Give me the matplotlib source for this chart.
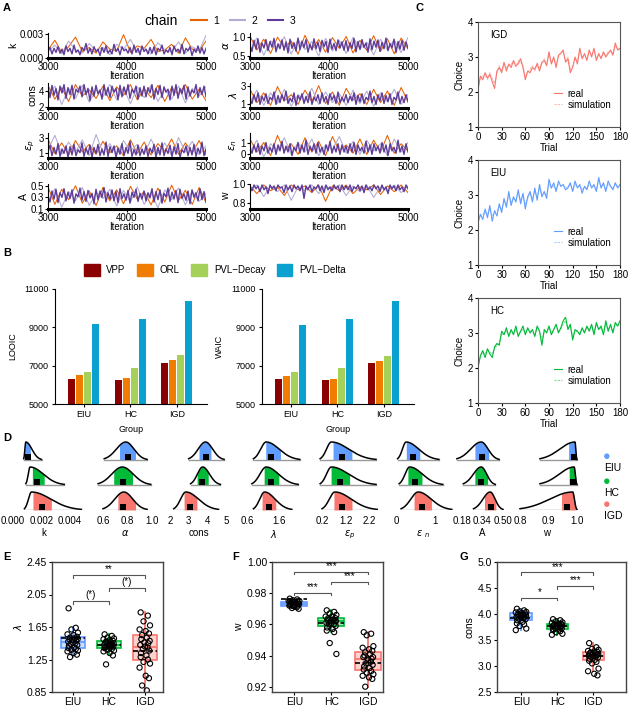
import numpy as np
import matplotlib.pyplot as plt
from matplotlib.patches import Patch
from matplotlib.lines import Line2D

plt.rcParams['font.family'] = ['Liberation Sans', 'DejaVu Sans']
plt.rcParams['axes.linewidth'] = 0.8

W, H = 628, 708
fig = plt.figure(figsize=(W / 100, H / 100), dpi=100)


def px_axes(x0, y0, x1, y1):
    return fig.add_axes([x0 / W, 1 - y1 / H, (x1 - x0) / W, (y1 - y0) / H])


groups = ['EIU', 'HC', 'IGD']
grp_colors = ['#619CFF', '#00BA38', '#F8766D']

# ---------------- A: MCMC traces (chains 1, 2, 3) ----------------
chain_colors = ['#e66101', '#b2abd2', '#5e3c99']

k_chains = [
    [1.0, 2.2, 0.7, 1.4, 2.6, 0.8, 1.3, 0.6, 2.0, 1.1, 0.9, 2.9, 0.7, 1.5, 1.2, 2.3, 0.8, 1.0, 1.7, 0.6, 2.5, 1.1, 0.9, 2.1],
    [0.8, 1.6, 0.5, 2.1, 1.0, 0.6, 1.8, 0.9, 1.3, 0.4, 1.7, 1.1, 2.3, 0.7, 1.2, 0.5, 1.9, 1.0, 0.8, 2.0, 0.6, 1.4, 0.9, 2.8],
    [0.9, 1.3, 0.5, 1.2, 0.7, 1.4, 0.6, 1.1, 0.4, 1.5, 0.8, 1.2, 0.5, 1.6, 0.7, 1.0, 0.4, 1.3, 0.9, 1.8, 0.6, 1.2, 0.5, 1.4,
     0.8, 1.1, 0.3, 1.3, 0.7, 1.5, 0.6, 1.0, 0.5, 1.7, 0.8, 1.2, 0.4, 1.4, 0.9, 1.1, 0.6, 1.3, 0.5, 1.6, 0.7, 1.2, 0.4, 1.5,
     0.8, 1.1, 0.5, 1.3, 0.6, 1.4, 0.4, 1.2, 0.9, 1.6, 0.5, 1.0, 0.7, 1.3, 0.4, 1.5, 0.8, 1.1, 0.6, 1.7, 0.5, 1.2, 0.9, 1.4,
     0.3, 1.1, 0.7, 1.5, 0.6, 1.3, 0.5, 1.2],
]  # x 1e-3
cons_chains = [
    [4.8, 3.0, 4.5, 2.7, 4.9, 3.4, 4.2, 3.1, 4.7, 2.8, 4.6, 3.5, 4.9, 2.9, 4.4, 3.2, 4.8, 2.7, 4.5, 3.6, 4.9, 3.0, 4.3, 2.8],
    [3.5, 4.7, 2.3, 4.4, 3.1, 4.8, 2.6, 4.2, 3.3, 4.9, 2.9, 4.5, 2.4, 4.6, 3.2, 4.8, 2.7, 4.3, 3.0, 4.7, 2.5, 4.4, 3.4, 4.6],
    [4.6, 3.2, 4.8, 3.5, 4.4, 2.9, 4.7, 3.8, 4.9, 3.1, 4.5, 3.6, 4.8, 3.0, 4.3, 3.9, 4.7, 3.3, 4.9, 3.6, 4.4, 2.8, 4.6, 3.4,
     4.8, 3.7, 4.2, 3.0, 4.9, 3.5, 4.5, 3.2, 4.7, 3.9, 4.4, 2.9, 4.8, 3.3, 4.6, 3.6, 4.9, 3.1, 4.3, 3.8, 4.7, 3.0, 4.5, 3.4,
     4.7, 3.3, 4.5, 3.8, 4.9, 3.0, 4.4, 3.6, 4.8, 3.2, 4.6, 3.9, 4.3, 2.9, 4.7, 3.5, 4.9, 3.1, 4.4, 3.7, 4.8, 3.0, 4.6, 3.4,
     4.2, 3.8, 4.9, 3.2, 4.5, 3.6, 4.7, 3.3],
]
ep_chains = [
    [2.9, 1.0, 2.4, 0.8, 2.7, 1.2, 2.2, 0.9, 2.6, 1.1, 2.0, 0.7, 2.8, 1.0, 2.5, 0.8, 2.3, 1.3, 2.9, 0.9, 2.4, 1.1, 2.7, 0.8],
    [1.5, 3.4, 0.9, 2.5, 1.2, 2.8, 0.7, 3.5, 1.1, 2.3, 0.8, 2.7, 1.3, 2.2, 0.9, 2.9, 1.0, 2.4, 0.7, 3.1, 1.2, 2.6, 0.8, 2.0],
    [1.2, 2.1, 0.7, 1.8, 0.9, 2.3, 0.6, 1.6, 1.0, 2.0, 0.5, 1.9, 0.8, 2.2, 0.7, 1.5, 1.1, 2.4, 0.6, 1.7, 0.9, 2.1, 0.5, 1.8,
     1.0, 2.2, 0.7, 1.6, 0.8, 2.5, 0.6, 1.9, 1.1, 2.0, 0.5, 1.7, 0.9, 2.3, 0.7, 1.8, 1.0, 2.6, 0.6, 1.5, 0.8, 2.1, 0.7, 1.6,
     0.9, 2.0, 0.6, 1.7, 1.1, 2.2, 0.5, 1.8, 0.8, 2.4, 0.7, 1.6, 1.0, 2.1, 0.6, 1.9, 0.9, 2.3, 0.5, 1.5, 1.1, 2.0, 0.7, 1.8,
     0.8, 2.2, 0.6, 1.7, 1.0, 2.5, 0.7, 1.6],
]
A_chains = [
    [0.48, 0.18, 0.44, 0.26, 0.50, 0.20, 0.41, 0.16, 0.47, 0.24, 0.43, 0.19, 0.49, 0.27, 0.40, 0.17, 0.46, 0.22, 0.51, 0.25, 0.42, 0.18, 0.47, 0.21],
    [0.20, 0.45, 0.13, 0.40, 0.24, 0.47, 0.16, 0.38, 0.28, 0.44, 0.15, 0.42, 0.22, 0.48, 0.18, 0.39, 0.12, 0.43, 0.26, 0.46, 0.17, 0.41, 0.23, 0.37],
    [0.33, 0.22, 0.41, 0.27, 0.44, 0.21, 0.38, 0.30, 0.45, 0.24, 0.39, 0.28, 0.43, 0.20, 0.36, 0.31, 0.46, 0.25, 0.40, 0.23, 0.42, 0.29, 0.37, 0.19,
     0.44, 0.26, 0.41, 0.30, 0.47, 0.22, 0.38, 0.27, 0.43, 0.24, 0.40, 0.21, 0.45, 0.28, 0.36, 0.25, 0.42, 0.20, 0.39, 0.30, 0.44, 0.23, 0.37, 0.27,
     0.41, 0.24, 0.38, 0.29, 0.45, 0.22, 0.40, 0.26, 0.43, 0.20, 0.37, 0.31, 0.46, 0.23, 0.39, 0.27, 0.42, 0.21, 0.44, 0.28, 0.36, 0.25, 0.41, 0.19,
     0.43, 0.30, 0.38, 0.24, 0.45, 0.26, 0.40, 0.22],
]
alpha_chains = [
    [1.02, 0.66, 0.94, 0.57, 0.99, 0.72, 0.89, 0.55, 1.04, 0.68, 0.93, 0.60, 0.98, 0.70, 1.01, 0.58, 0.91, 0.65, 1.03, 0.62, 0.95, 0.56, 0.97, 0.69],
    [0.64, 0.97, 0.52, 0.90, 0.71, 1.00, 0.55, 0.93, 0.67, 0.88, 0.50, 0.96, 0.63, 0.91, 0.57, 0.99, 0.69, 0.86, 0.53, 0.94, 0.66, 0.92, 0.59, 0.98],
    [0.78, 0.62, 0.91, 0.68, 0.95, 0.60, 0.84, 0.71, 0.93, 0.64, 0.88, 0.73, 0.96, 0.61, 0.82, 0.69, 0.92, 0.65, 0.87, 0.58, 0.94, 0.70, 0.85, 0.63,
     0.97, 0.67, 0.89, 0.72, 0.93, 0.60, 0.81, 0.66, 0.95, 0.69, 0.86, 0.62, 0.91, 0.74, 0.88, 0.59, 0.94, 0.68, 0.83, 0.64, 0.92, 0.71, 0.87, 0.65,
     0.90, 0.63, 0.85, 0.70, 0.96, 0.61, 0.88, 0.67, 0.93, 0.72, 0.84, 0.60, 0.95, 0.66, 0.89, 0.73, 0.92, 0.62, 0.86, 0.69, 0.97, 0.64, 0.83, 0.71,
     0.94, 0.59, 0.88, 0.68, 0.91, 0.65, 0.87, 0.70],
]
lam_chains = [
    [2.6, 1.1, 2.2, 0.8, 2.9, 1.3, 2.0, 0.9, 2.5, 1.2, 3.0, 1.0, 2.3, 0.8, 2.7, 1.4, 2.1, 0.9, 2.6, 1.1, 2.4, 0.8, 2.8, 1.2],
    [1.2, 2.5, 0.8, 2.2, 1.0, 2.6, 0.7, 2.0, 1.3, 2.7, 0.9, 2.3, 1.1, 2.1, 0.8, 2.5, 1.0, 2.4, 0.7, 2.2, 1.2, 2.6, 0.9, 2.0],
    [1.5, 1.0, 2.0, 1.2, 2.2, 0.9, 1.8, 1.3, 2.1, 1.0, 1.7, 1.4, 2.3, 0.9, 1.9, 1.1, 2.0, 1.3, 2.4, 1.0, 1.6, 1.2, 2.2, 0.8,
     1.9, 1.4, 2.1, 1.0, 1.8, 1.1, 2.3, 0.9, 1.7, 1.3, 2.0, 1.0, 2.2, 1.2, 1.8, 0.9, 2.1, 1.4, 1.9, 1.0, 2.3, 1.1, 1.7, 1.2,
     2.0, 1.1, 1.8, 1.3, 2.2, 0.9, 1.9, 1.2, 2.1, 1.0, 1.7, 1.4, 2.4, 1.1, 1.8, 0.9, 2.0, 1.3, 2.2, 1.0, 1.9, 1.2, 2.1, 0.9,
     1.7, 1.4, 2.3, 1.0, 1.8, 1.1, 2.0, 1.2],
]
en_chains = [
    [1.3, 0.2, 1.0, -0.1, 1.6, 0.3, 0.9, 0.0, 1.4, 0.2, 1.1, -0.1, 1.5, 0.3, 0.8, 0.1, 1.3, 0.0, 1.2, 0.2, 1.6, 0.1, 0.9, 0.3],
    [0.2, 1.2, -0.2, 0.9, 0.3, 1.4, 0.0, 1.0, 0.2, 1.3, -0.1, 0.8, 0.4, 1.5, 0.1, 1.1, 0.0, 1.2, 0.3, 0.9, -0.1, 1.3, 0.2, 1.0],
    [0.5, 0.1, 0.8, 0.2, 0.9, 0.0, 0.7, 0.3, 1.0, 0.1, 0.6, 0.2, 0.9, 0.0, 0.8, 0.3, 1.1, 0.1, 0.7, 0.2, 0.9, -0.1, 0.6, 0.3,
     1.0, 0.1, 0.8, 0.2, 1.2, 0.0, 0.7, 0.3, 0.9, 0.1, 1.0, 0.2, 0.6, 0.0, 0.8, 0.3, 1.1, 0.1, 0.7, 0.2, 0.9, 0.0, 0.8, 0.2,
     0.7, 0.1, 0.9, 0.2, 1.0, 0.0, 0.8, 0.3, 0.6, 0.1, 1.1, 0.2, 0.8, 0.0, 0.9, 0.3, 0.7, 0.1, 1.0, 0.2, 0.8, -0.1, 0.9, 0.3,
     0.6, 0.1, 1.2, 0.2, 0.7, 0.0, 0.9, 0.2],
]
w_chains = [
    [0.98, 0.90, 0.99, 0.93, 0.97, 0.88, 0.99, 0.94, 0.98, 0.91, 0.99, 0.82, 0.98, 0.93, 0.99, 0.90, 0.97, 0.94, 0.99, 0.89, 0.98, 0.92, 0.99, 0.91],
    [0.94, 0.99, 0.87, 0.98, 0.92, 0.99, 0.83, 0.97, 0.93, 0.99, 0.90, 0.98, 0.94, 0.99, 0.88, 0.98, 0.92, 0.99, 0.86, 0.97, 0.93, 0.99, 0.91, 0.98],
    [0.97, 0.93, 0.99, 0.95, 0.98, 0.92, 0.99, 0.94, 0.97, 0.90, 0.99, 0.95, 0.98, 0.93, 0.99, 0.96, 0.97, 0.91, 0.99, 0.94, 0.98, 0.92, 0.99, 0.95,
     0.98, 0.93, 0.99, 0.85, 0.98, 0.94, 0.99, 0.92, 0.97, 0.95, 0.99, 0.93, 0.98, 0.91, 0.99, 0.94, 0.97, 0.93, 0.99, 0.95, 0.98, 0.92, 0.99, 0.94,
     0.98, 0.94, 0.99, 0.92, 0.97, 0.95, 0.99, 0.93, 0.98, 0.91, 0.99, 0.94, 0.97, 0.93, 0.99, 0.95, 0.98, 0.92, 0.99, 0.94, 0.97, 0.90, 0.99, 0.95,
     0.98, 0.93, 0.99, 0.94, 0.97, 0.92, 0.99, 0.95],
]

trace_specs = [
    # chains, scale, ylabel, ylim, yticks, ticklabels, column, row
    (k_chains, 1e-3, 'k', (0, 0.0031), [0, 0.003], ['0.000', '0.003'], 0, 0),
    (cons_chains, 1, 'cons', (1.85, 5.1), [2, 4], ['2', '4'], 0, 1),
    (ep_chains, 1, r'$\varepsilon_p$', (0.4, 3.7), [1, 3], ['1', '3'], 0, 2),
    (A_chains, 1, 'A', (0.1, 0.53), [0.1, 0.3, 0.5], ['0.1', '0.3', '0.5'], 0, 3),
    (alpha_chains, 1, r'$\alpha$', (0.45, 1.1), [0.5, 1.0], ['0.5', '1.0'], 1, 0),
    (lam_chains, 1, r'$\lambda$', (0.5, 3.3), [1, 3], ['1', '3'], 1, 1),
    (en_chains, 1, r'$\varepsilon_n$', (-0.3, 1.8), [0, 1], ['0', '1'], 1, 2),
    (w_chains, 1, 'w', (0.74, 1.0), [0.8, 1.0], ['0.8', '1.0'], 1, 3),
]
col_x = [(48, 206), (250, 408)]
row_y = [33, 83, 133, 184]
for chains, sc, lab, ylim, yt, ytl, col, row in trace_specs:
    ax = px_axes(col_x[col][0], row_y[row], col_x[col][1], row_y[row] + 25)
    for vals, c, lw in zip(chains, chain_colors, [0.75, 0.75, 1.0]):
        v = np.array(vals) * sc
        ax.plot(np.linspace(3000, 5000, len(v)), v, color=c, lw=lw)
    ax.set_xlim(3000, 5000)
    ax.set_ylim(*ylim)
    ax.set_yticks(yt)
    ax.set_yticklabels(ytl)
    ax.set_xticks([3000, 4000, 5000])
    ax.tick_params(labelsize=7, length=2, pad=1)
    ax.set_xlabel('Iteration', fontsize=7, labelpad=-1)
    ax.set_ylabel(lab, fontsize=7.5, labelpad=1)
    for s in ['top', 'right']:
        ax.spines[s].set_visible(False)
    ax.spines['bottom'].set_linewidth(2.2)

fig.text(178 / W, 1 - 21 / H, 'chain', fontsize=10, ha='right', va='center')
chain_handles = [Line2D([], [], color=c, lw=1.5) for c in chain_colors]
fig.legend(chain_handles, ['1', '2', '3'], loc='center left', bbox_to_anchor=(182 / W, 1 - 21 / H),
           ncol=3, frameon=False, fontsize=7.5, handlelength=1.5, handletextpad=0.6, columnspacing=1.0)

# ---------------- B: model comparison ----------------
models = ['VPP', 'ORL', 'PVL\u2212Decay', 'PVL\u2212Delta']
model_colors = ['#8b0000', '#f07d00', '#a5d05a', '#0aa0d0']
looic = [[6330, 6260, 7160], [6490, 6350, 7300], [6680, 6890, 7560], [9170, 9440, 10360]]
waic = [[6300, 6250, 7120], [6470, 6310, 7260], [6650, 6890, 7510], [9140, 9420, 10350]]

for vals, lab, x0 in [(looic, 'LOOIC', 55), (waic, 'WAIC', 262)]:
    ax = px_axes(x0, 289, x0 + 152, 404)
    xs = np.arange(3)
    for m, (v, c) in enumerate(zip(vals, model_colors)):
        ax.bar(xs + (m - 1.5) * 0.172, v, width=0.155, color=c, bottom=0)
    ax.set_ylim(5000, 11000)
    ax.set_xlim(-0.62, 2.65)
    ax.set_yticks([5000, 7000, 9000, 11000])
    ax.set_xticks(xs)
    ax.set_xticklabels(groups)
    ax.tick_params(labelsize=6.5, length=2.5, pad=2)
    ax.set_xlabel('Group', fontsize=6.5, labelpad=4)
    ax.set_ylabel(lab, fontsize=6.5, labelpad=5)
    for s in ['top', 'right']:
        ax.spines[s].set_visible(False)

fig.legend([Patch(color=c) for c in model_colors], models, loc='center', bbox_to_anchor=(215 / W, 1 - 270 / H),
           ncol=4, frameon=False, fontsize=7, handlelength=1.6, handleheight=1.6, columnspacing=1.2, handletextpad=0.7)

# ---------------- C: real vs simulated choice ----------------
igd_real = [2.05, 2.45, 2.35, 2.55, 2.40, 2.50, 2.30, 2.10, 2.60, 2.70, 2.55, 2.85, 2.60, 2.80, 2.70, 2.90, 2.75, 2.80, 2.95, 2.70,
            2.35, 2.60, 2.55, 2.70, 2.65, 2.80, 2.60, 2.85, 2.90, 2.75, 3.15, 2.80, 3.00, 2.70, 3.05, 3.10, 3.20, 2.85, 2.95, 2.55,
            2.70, 3.00, 2.80, 3.25, 2.95, 3.10, 2.90, 3.20, 3.00, 3.25, 2.90, 3.10, 2.95, 3.15, 3.00, 3.10, 3.20, 3.05, 3.40, 3.20, 3.25]
igd_sim = [2.15, 2.40, 2.45, 2.50, 2.35, 2.55, 2.40, 2.25, 2.55, 2.75, 2.60, 2.80, 2.70, 2.75, 2.80, 2.85, 2.70, 2.90, 2.85, 2.75,
           2.45, 2.55, 2.65, 2.75, 2.60, 2.85, 2.70, 2.80, 2.95, 2.80, 3.05, 2.85, 2.95, 2.80, 3.00, 3.15, 3.10, 2.90, 3.00, 2.65,
           2.75, 2.95, 2.90, 3.15, 3.00, 3.05, 2.95, 3.15, 3.05, 3.20, 2.95, 3.05, 3.00, 3.10, 3.05, 3.15, 3.15, 3.10, 3.30, 3.25, 3.20]
eiu_real = [2.20, 2.45, 2.30, 2.60, 2.35, 2.70, 2.25, 2.55, 2.40, 2.75, 2.50, 2.90, 2.65, 3.10, 2.70, 2.95, 2.80, 3.15, 2.75, 3.05,
            2.60, 2.95, 3.10, 2.80, 3.20, 2.85, 3.30, 2.95, 3.10, 2.90, 3.45, 3.20, 3.35, 3.10, 3.40, 3.25, 3.30, 3.15, 3.20, 3.35,
            3.10, 3.40, 3.20, 3.30, 3.05, 3.25, 3.15, 3.40, 3.20, 3.30, 3.10, 3.50, 3.20, 3.35, 3.10, 3.40, 3.25, 3.15, 3.35, 3.20, 3.30]
eiu_sim = [2.30, 2.40, 2.45, 2.50, 2.45, 2.60, 2.40, 2.50, 2.55, 2.65, 2.60, 2.80, 2.75, 2.95, 2.80, 2.90, 2.85, 3.05, 2.85, 3.00,
           2.75, 2.90, 3.05, 2.90, 3.10, 2.95, 3.20, 3.00, 3.05, 3.00, 3.30, 3.20, 3.25, 3.15, 3.30, 3.25, 3.25, 3.20, 3.25, 3.30,
           3.15, 3.30, 3.25, 3.25, 3.15, 3.20, 3.20, 3.30, 3.25, 3.25, 3.15, 3.40, 3.25, 3.30, 3.15, 3.30, 3.25, 3.20, 3.30, 3.25, 3.25]
hc_real = [2.00, 2.35, 2.50, 2.30, 2.55, 2.40, 2.30, 2.60, 2.70, 2.65, 3.05, 2.95, 3.15, 2.90, 3.10, 2.95, 3.20, 2.90, 3.05, 3.20,
           2.95, 3.15, 3.00, 3.10, 2.90, 3.20, 3.05, 2.65, 3.10, 3.00, 3.20, 2.95, 3.10, 3.25, 3.00, 3.15, 3.35, 3.45, 3.10, 3.25,
           2.80, 3.10, 3.05, 2.95, 3.15, 3.00, 3.20, 3.05, 3.25, 2.95, 3.30, 3.10, 3.20, 2.95, 3.35, 3.05, 3.25, 3.00, 3.30, 3.20, 3.35]
hc_sim = [2.10, 2.30, 2.45, 2.40, 2.50, 2.45, 2.40, 2.55, 2.65, 2.75, 2.95, 3.00, 3.05, 2.95, 3.05, 3.00, 3.10, 2.95, 3.05, 3.10,
          3.00, 3.10, 3.05, 3.05, 2.95, 3.15, 3.05, 2.80, 3.05, 3.05, 3.15, 3.00, 3.10, 3.20, 3.05, 3.10, 3.25, 3.35, 3.15, 3.20,
          2.90, 3.05, 3.05, 3.00, 3.10, 3.05, 3.15, 3.10, 3.20, 3.00, 3.25, 3.10, 3.15, 3.00, 3.25, 3.10, 3.20, 3.05, 3.25, 3.20, 3.30]

c_panels = [('IGD', igd_real, igd_sim, grp_colors[2], 22),
            ('EIU', eiu_real, eiu_sim, grp_colors[0], 160),
            ('HC', hc_real, hc_sim, grp_colors[1], 298)]
for name, real, sim, c, top in c_panels:
    ax = px_axes(478, top, 620, top + 105)
    ax.plot(np.linspace(0, 180, len(real)), real, color=c, lw=0.8, label='real')
    ax.plot(np.linspace(0, 180, len(sim)), sim, color=c, lw=0.8, alpha=0.5, ls=(0, (2, 1)), label='simulation')
    ax.set_xlim(0, 180)
    ax.set_ylim(1, 4)
    ax.set_xticks(range(0, 181, 30))
    ax.set_yticks([1, 2, 3, 4])
    ax.tick_params(labelsize=7, length=2, pad=1.5)
    ax.set_xlabel('Trial', fontsize=7, labelpad=1)
    ax.set_ylabel('Choice', fontsize=7, labelpad=2)
    for s in ax.spines.values():
        s.set_color('#555555')
    ax.text(15, 3.55, name, fontsize=7)
    ax.legend(loc='lower right', bbox_to_anchor=(1.0, 0.08), frameon=False, fontsize=7, handlelength=0.8,
              handletextpad=0.6, labelspacing=0.1)

# ---------------- D: posterior densities of group parameters ----------------
# each row: (curve start, mode, curve end, interval low, interval high, median); rows EIU, HC, IGD
d_k = [(0.00075, 0.0009, 0.0020, 0.00078, 0.00122, 0.00105),
       (0.0009, 0.0012, 0.0036, 0.00135, 0.0022, 0.0017),
       (0.0008, 0.0013, 0.0048, 0.0014, 0.0027, 0.0020)]
d_alpha = [(0.61, 0.786, 0.96, 0.734, 0.866, 0.80),
           (0.56, 0.757, 0.99, 0.686, 0.843, 0.76),
           (0.60, 0.77, 0.96, 0.72, 0.866, 0.766)]
d_cons = [(3.0, 3.9, 4.9, 3.55, 4.2, 3.95),
          (3.1, 3.75, 4.7, 3.45, 4.05, 3.72),
          (2.2, 2.85, 4.6, 2.75, 3.45, 3.05)]
d_lam = [(0.8, 1.2, 2.25, 1.18, 1.65, 1.36),
         (0.75, 1.2, 2.2, 1.13, 1.6, 1.36),
         (0.8, 1.15, 2.0, 1.07, 1.5, 1.28)]
d_ep = [(0.12, 0.6, 2.5, 0.66, 1.48, 1.05),
        (0.12, 0.6, 2.5, 0.58, 1.38, 0.97),
        (0.2, 0.75, 2.55, 0.7, 1.48, 1.05)]
d_en = [(0.04, 0.26, 1.1, 0.26, 0.61, 0.43),
        (0.08, 0.35, 1.2, 0.30, 0.67, 0.48),
        (0.13, 0.57, 1.43, 0.46, 0.91, 0.67)]
d_A = [(0.14, 0.33, 0.47, 0.28, 0.39, 0.34),
       (0.19, 0.33, 0.44, 0.28, 0.38, 0.33),
       (0.27, 0.40, 0.50, 0.355, 0.445, 0.405)]
d_w = [(0.87, 0.993, 1.0, 0.97, 1.0, 0.99),
       (0.87, 0.99, 1.0, 0.972, 0.998, 0.986),
       (0.80, 0.985, 1.0, 0.945, 0.997, 0.965)]

d_specs = [
    # rows, name, ticks, tick labels, (px of first tick, px of last tick), axes px span
    (d_k, 'k', [0, 0.002, 0.004], ['0.000', '0.002', '0.004'], (13, 70), (4, 84)),
    (d_alpha, r'$\alpha$', [0.6, 0.8, 1.0], ['0.6', '0.8', '1.0'], (103, 152), (88, 162)),
    (d_cons, 'cons', [2, 3, 4, 5], ['2', '3', '4', '5'], (170, 226), (164, 234)),
    (d_lam, r'$\lambda$', [0.6, 1.6], ['0.6', '1.6'], (247, 279), (238, 310)),
    (d_ep, r'$\varepsilon_p$', [0.2, 1.2, 2.2], ['0.2', '1.2', '2.2'], (322, 369), (314, 385)),
    (d_en, r'$\varepsilon\ _n$', [0, 1], ['0', '1'], (396, 435), (388, 458)),
    (d_A, 'A', [0.18, 0.34, 0.50], ['0.18', '0.34', '0.50'], (462, 503), (452, 512)),
    (d_w, 'w', [0.8, 0.9, 1.0], ['0.8', '0.9', '1.0'], (520, 577), (512, 582)),
]
ridge_h = 0.72
for rows, name, ticks, tlabs, (p0, p1), (a0, a1) in d_specs:
    ax = px_axes(a0, 440, a1, 510)
    scale = (p1 - p0) / (ticks[-1] - ticks[0])
    ax.set_xlim(ticks[0] - (p0 - a0) / scale, ticks[-1] + (a1 - p1) / scale)
    ax.set_ylim(0, 2.8)
    for r, (lo, mode, hi, qlo, qhi, med) in enumerate(rows):
        base = 2 - r
        c = grp_colors[r]
        x = np.linspace(lo, hi, 200)
        sl = (mode - lo) / 2.3
        sr = max(hi - mode, 1e-9) / 2.6
        y = np.where(x < mode, np.exp(-0.5 * ((x - mode) / sl) ** 2), np.exp(-0.5 * ((x - mode) / sr) ** 2))
        y = base + ridge_h * y
        ax.plot([lo, hi], [base, base], color='#9a9a9a', lw=1.0)
        m = (x >= qlo) & (x <= qhi)
        ax.fill_between(x[m], base, y[m], color=c, lw=0)
        ax.plot(x, y, color='black', lw=1.1)
        ax.plot([med], [base + 0.13], marker='s', ms=3.8, color='black', mew=0)
    ax.set_xticks(ticks)
    ax.set_xticklabels(tlabs)
    ax.set_yticks([])
    ax.tick_params(axis='x', labelsize=7, length=0, pad=4)
    ax.set_xlabel(name, fontsize=7, labelpad=2)
    for s in ax.spines.values():
        s.set_visible(False)
    ax.patch.set_visible(False)

for g, c, yd in zip(groups, grp_colors, [457, 482, 505]):
    fig.text(607 / W, 1 - yd / H, '\u25cf', color=c, fontsize=9, ha='center', va='center')
    fig.text(604 / W, 1 - (yd + 11) / H, g, fontsize=7.5, ha='left', va='center')

# ---------------- E, F, G: individual parameters ----------------
jit = [-0.12, 0.08, -0.04, 0.14, -0.15, 0.02, 0.11, -0.08, 0.05, -0.10, 0.13, -0.02, 0.09, -0.13, 0.0, 0.07, -0.06, 0.12, -0.11, 0.04]

lam_eiu = [1.88, 1.64, 1.62, 1.58, 1.56, 1.55, 1.53, 1.52, 1.51, 1.50, 1.50, 1.49, 1.48, 1.47, 1.46, 1.45, 1.44, 1.43, 1.42,
           1.40, 1.39, 1.38, 1.37, 1.36, 1.35, 1.33, 1.31, 1.28]
lam_hc = [1.56, 1.54, 1.52, 1.51, 1.50, 1.49, 1.48, 1.47, 1.46, 1.45, 1.45, 1.44, 1.43, 1.43, 1.42, 1.42, 1.41, 1.41, 1.40,
          1.40, 1.39, 1.38, 1.37, 1.36, 1.35, 1.33, 1.30, 1.19]
lam_igd = [1.83, 1.79, 1.72, 1.67, 1.62, 1.60, 1.57, 1.55, 1.52, 1.50, 1.48, 1.46, 1.45, 1.43, 1.41, 1.40, 1.38, 1.36, 1.33,
           1.30, 1.28, 1.25, 1.22, 1.20, 1.15, 1.05, 1.02, 0.93, 0.87]
lam_mean = [1.52, 1.43, 1.35]

w_eiu = [0.9765, 0.976, 0.9755, 0.975, 0.975, 0.9745, 0.974, 0.974, 0.9735, 0.973, 0.973, 0.9725, 0.972, 0.972, 0.9715,
         0.971, 0.9705, 0.970, 0.9725, 0.9735, 0.9745, 0.9728, 0.9718]
w_hc = [0.969, 0.968, 0.967, 0.966, 0.965, 0.965, 0.964, 0.964, 0.963, 0.963, 0.962, 0.962, 0.962, 0.961, 0.961, 0.960, 0.960,
        0.959, 0.958, 0.957, 0.956, 0.955, 0.948, 0.941]
w_igd = [0.955, 0.954, 0.953, 0.946, 0.945, 0.944, 0.943, 0.942, 0.941, 0.940, 0.939, 0.938, 0.938, 0.939, 0.937, 0.936,
         0.935, 0.934, 0.933, 0.932, 0.931, 0.930, 0.929, 0.928, 0.927, 0.926, 0.925, 0.920]
w_mean = [0.9763, 0.961, 0.9355]

cons_eiu = [4.10, 4.07, 4.05, 4.04, 4.03, 4.02, 4.01, 4.00, 3.99, 3.98, 3.97, 3.96, 3.95, 3.94, 3.93, 3.92, 3.91, 3.90, 3.88,
            3.85, 3.82, 3.80, 3.77, 3.72, 3.69]
cons_hc = [3.90, 3.88, 3.86, 3.84, 3.83, 3.82, 3.81, 3.80, 3.79, 3.78, 3.78, 3.77, 3.76, 3.76, 3.75, 3.74, 3.73, 3.72, 3.71,
           3.70, 3.69, 3.67, 3.65, 3.62, 3.60]
cons_igd = [3.44, 3.36, 3.33, 3.31, 3.29, 3.28, 3.27, 3.26, 3.25, 3.24, 3.23, 3.22, 3.21, 3.20, 3.19, 3.18, 3.17, 3.16, 3.14,
            3.12, 3.10, 3.08, 3.05, 2.95, 2.90, 2.85, 2.82]
cons_mean = [3.93, 3.77, 3.20]

# brackets: (group a, group b, height, label)
lam_sig = [(0, 1, 1.97, '(*)'), (1, 2, 2.13, '(*)'), (0, 2, 2.29, '**')]
w_sig = [(0, 1, 0.9803, '***'), (1, 2, 0.9874, '***'), (0, 2, 0.9938, '***')]
cons_sig = [(0, 1, 4.31, '*'), (1, 2, 4.54, '***'), (0, 2, 4.80, '***')]


def box_panel(ax, data, means, sig, ylim, yticks, ytl, ylabel, bw, xlim):
    span = ylim[1] - ylim[0]
    for i, (vals, c) in enumerate(zip(data, grp_colors)):
        bp = ax.boxplot([vals], positions=[i], widths=bw, patch_artist=True, showfliers=False, manage_ticks=False)
        for b in bp['boxes']:
            b.set_facecolor(c + '55')
            b.set_edgecolor(c)
            b.set_linewidth(1.2)
        for key in ['whiskers', 'medians']:
            for ln in bp[key]:
                ln.set_color(c)
                ln.set_linewidth(1.3)
        for ln in bp['caps']:
            ln.set_visible(False)
        ax.hlines(means[i], i - bw / 2, i + bw / 2, colors='black', linestyles=(0, (3, 1.5)), lw=1.2, zorder=4)
        xs = [i + jit[j % len(jit)] for j in range(len(vals))]
        ax.scatter(xs, vals, s=14, facecolors='none', edgecolors='black', linewidths=0.8, zorder=5)
    for a, b, h, lab in sig:
        d = span * 0.02
        ax.plot([a, a, b, b], [h - d, h, h, h - d], color='#555555', lw=0.8)
        ax.text((a + b) / 2, h + span * 0.004, lab, ha='center', va='bottom', fontsize=7)
    ax.set_xlim(*xlim)
    ax.set_ylim(*ylim)
    ax.set_yticks(yticks)
    ax.set_yticklabels(ytl)
    ax.set_xticks(range(3))
    ax.set_xticklabels(groups)
    ax.tick_params(labelsize=7.5, length=2, pad=1.5)
    ax.set_ylabel(ylabel, fontsize=7.5, labelpad=2)
    for s in ax.spines.values():
        s.set_color('#444444')
        s.set_linewidth(1.0)


axE = px_axes(52, 562, 163, 692)
box_panel(axE, [lam_eiu, lam_hc, lam_igd], lam_mean, lam_sig, (0.85, 2.45), [0.85, 1.25, 1.65, 2.05, 2.45],
          ['0.85', '1.25', '1.65', '2.05', '2.45'], r'$\lambda$', 0.65, (-0.58, 2.5))
axF = px_axes(272, 562, 383, 692)
box_panel(axF, [w_eiu, w_hc, w_igd], w_mean, w_sig, (0.9166, 1.0), [0.92, 0.94, 0.96, 0.98, 1.00],
          ['0.92', '0.94', '0.96', '0.98', '1.00'], 'w', 0.7, (-0.6, 2.4))
axG = px_axes(497, 562, 626, 692)
box_panel(axG, [cons_eiu, cons_hc, cons_igd], cons_mean, cons_sig, (2.5, 5.0), [2.5, 3.0, 3.5, 4.0, 4.5, 5.0],
          ['2.5', '3.0', '3.5', '4.0', '4.5', '5.0'], 'cons', 0.6, (-0.67, 2.9))

# panel letters
for lab, x, y in [('A', 3, 8), ('B', 3, 253), ('C', 415, 8), ('D', 3, 438), ('E', 3, 557), ('F', 232, 557), ('G', 460, 557)]:
    fig.text(x / W, 1 - y / H, lab, fontsize=8, fontweight='bold', ha='left', va='center')

fig.savefig('out.png', dpi=100)
